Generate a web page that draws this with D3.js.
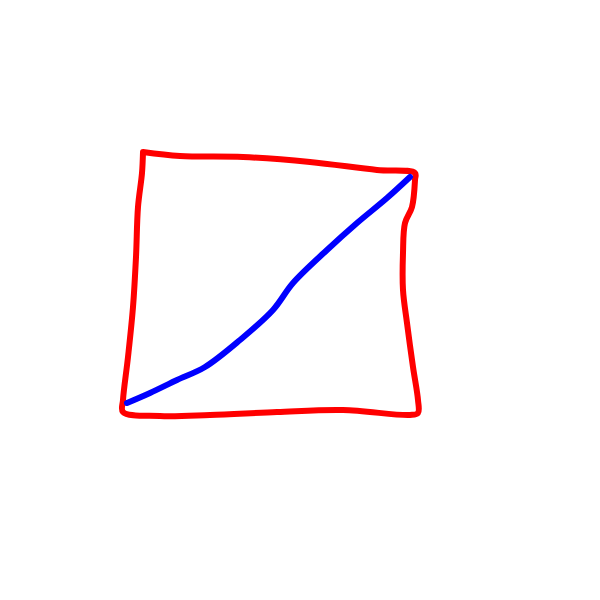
<!DOCTYPE html>
<html>
<head>
<meta charset="utf-8">
<script src="https://cdn.jsdelivr.net/npm/d3@7"></script>
<style>
  html, body { margin: 0; padding: 0; background: #fff; }
</style>
</head>
<body>
<div id="chart"></div>
<script>
// hand-drawn outline (red) and diagonal stroke (blue), in canvas units
var redX = [143, 180, 243, 310, 377, 415, 415, 412, 405, 403, 403, 407, 413, 418, 418, 410, 343, 277, 210, 160, 123, 123, 128, 133, 136, 138, 142, 143];
var redY = [152, 156, 157, 162, 170, 173, 180, 207, 223, 253, 290, 323, 367, 400, 413, 415, 410, 412, 415, 416, 412, 400, 357, 307, 257, 207, 173, 152];

var blueX = [127, 150, 177, 205, 240, 273, 293, 327, 357, 387, 410];
var blueY = [403, 393, 380, 367, 340, 310, 283, 250, 223, 198, 177];

var width = 600, height = 600;

var x = d3.scaleLinear().domain([0, 600]).range([0, width]);
var y = d3.scaleLinear().domain([0, 600]).range([0, height]);

var svg = d3.select("#chart").append("svg")
      .attr("width", width)
      .attr("height", height);

var line = d3.line()
      .x(function(d) { return x(d[0]); })
      .y(function(d) { return y(d[1]); })
      .curve(d3.curveCatmullRom);

var red = d3.zip(redX, redY);
var blue = d3.zip(blueX, blueY);

svg.append("path")
    .datum(red)
    .attr("d", line)
    .attr("fill", "none")
    .attr("stroke", "#ff0000")
    .attr("stroke-width", 6)
    .attr("stroke-linecap", "round")
    .attr("stroke-linejoin", "round");

svg.append("path")
    .datum(blue)
    .attr("d", line)
    .attr("fill", "none")
    .attr("stroke", "#0000ff")
    .attr("stroke-width", 6)
    .attr("stroke-linecap", "round")
    .attr("stroke-linejoin", "round");
</script>
</body>
</html>
